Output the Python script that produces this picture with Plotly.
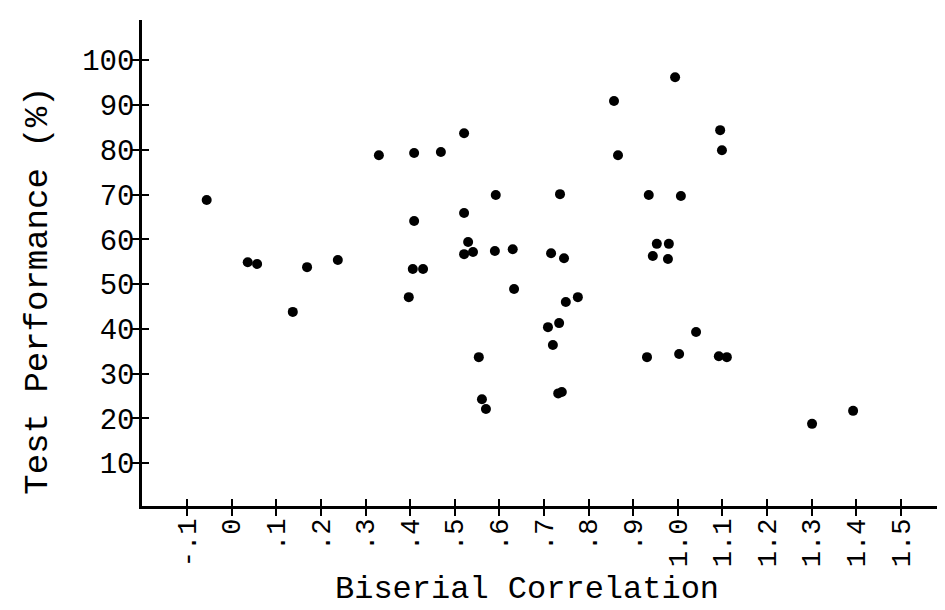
import plotly.graph_objects as go

# Biserial correlation (x) and test performance % (y)
biserial = [-0.056, 0.330, 0.409, 0.409, 0.036, 0.057, 0.169, 0.238, 0.137, 0.406,
            0.429, 0.397, 0.994, 0.857, 0.521, 0.469, 1.095, 1.099, 0.866, 0.592,
            0.736, 0.935, 1.007, 0.521, 0.530, 0.521, 0.541, 0.590, 0.630, 0.716,
            0.745, 0.953, 0.980, 0.944, 0.978, 0.633, 0.749, 0.776, 0.709, 0.734,
            0.720, 0.554, 1.041, 0.931, 1.003, 1.092, 1.110, 0.561, 0.570, 0.732,
            0.740, 1.301, 1.393]
performance = [68.8, 78.8, 79.3, 64.1, 54.9, 54.5, 53.8, 55.4, 43.8, 53.4,
               53.4, 47.1, 96.2, 90.9, 83.7, 79.5, 84.4, 79.9, 78.8, 69.9,
               70.1, 69.9, 69.7, 65.9, 59.4, 56.7, 57.2, 57.4, 57.8, 56.9,
               55.8, 59.0, 59.0, 56.3, 55.6, 48.9, 46.0, 47.1, 40.4, 41.3,
               36.4, 33.7, 39.3, 33.7, 34.4, 33.9, 33.7, 24.3, 22.1, 25.6,
               25.9, 18.8, 21.7]

x_tick_vals = [-0.1, 0.0, 0.1, 0.2, 0.3, 0.4, 0.5, 0.6, 0.7, 0.8, 0.9,
               1.0, 1.1, 1.2, 1.3, 1.4, 1.5]
x_tick_text = ["-.1", "0", ".1", ".2", ".3", ".4", ".5", ".6", ".7", ".8", ".9",
               "1.0", "1.1", "1.2", "1.3", "1.4", "1.5"]
y_tick_vals = [10, 20, 30, 40, 50, 60, 70, 80, 90, 100]
y_tick_text = ["10", "20", "30", "40", "50", "60", "70", "80", "90", "100"]

x_range = [-0.201, 1.599]
y_range = [0.45, 109.0]

FONT = "Liberation Mono"

fig = go.Figure()
fig.add_trace(go.Scatter(
    x=biserial, y=performance, mode="markers",
    marker=dict(color="black", size=10, line=dict(width=0)),
    showlegend=False, hoverinfo="x+y",
))
# invisible trace so the overlay axes (inner half of the crossing ticks) render
fig.add_trace(go.Scatter(x=[x_range[0]], y=[y_range[0]], mode="markers",
                         marker=dict(opacity=0), xaxis="x2", yaxis="y2",
                         showlegend=False, hoverinfo="skip"))

axis_common = dict(showgrid=False, zeroline=False, showline=True,
                   linecolor="black", linewidth=2.5, ticks="outside",
                   ticklen=7, tickwidth=2, tickcolor="black")

# the page body adds an 8 px margin, so the figure is 8 px smaller and offset
fig.update_layout(
    width=937, height=602,
    margin=dict(l=134, r=0, t=12, b=104),
    paper_bgcolor="white", plot_bgcolor="white",
    font=dict(family=FONT, color="black"),
    xaxis=dict(range=x_range, tickvals=x_tick_vals, ticktext=x_tick_text,
               tickangle=-90, tickfont=dict(family=FONT, size=27, color="black"),
               ticklabelstandoff=-8, automargin=False, **axis_common),
    yaxis=dict(range=y_range, tickvals=y_tick_vals, ticktext=y_tick_text,
               tickfont=dict(family=FONT, size=29, color="black"),
               ticklabelstandoff=-8, automargin=False, **axis_common),
    xaxis2=dict(range=x_range, overlaying="x", anchor="y2", showgrid=False,
                zeroline=False, showline=False, tickvals=x_tick_vals,
                showticklabels=False, ticks="inside", ticklen=7, tickwidth=2,
                tickcolor="black"),
    yaxis2=dict(range=y_range, overlaying="y", anchor="x2", side="left",
                showgrid=False, zeroline=False, showline=False,
                tickvals=y_tick_vals, showticklabels=False, ticks="inside",
                ticklen=7, tickwidth=2, tickcolor="black"),
    annotations=[
        dict(text="Biserial Correlation", xref="paper", yref="paper",
             x=0.48, y=-0.171, showarrow=False, xanchor="center", yanchor="middle",
             font=dict(family=FONT, size=32, color="black")),
        dict(text="Test Performance (%)", xref="paper", yref="paper",
             x=-0.129, y=0.444, showarrow=False, textangle=-90,
             xanchor="center", yanchor="middle",
             font=dict(family=FONT, size=34, color="black")),
    ],
)

fig.write_html("out.html")
